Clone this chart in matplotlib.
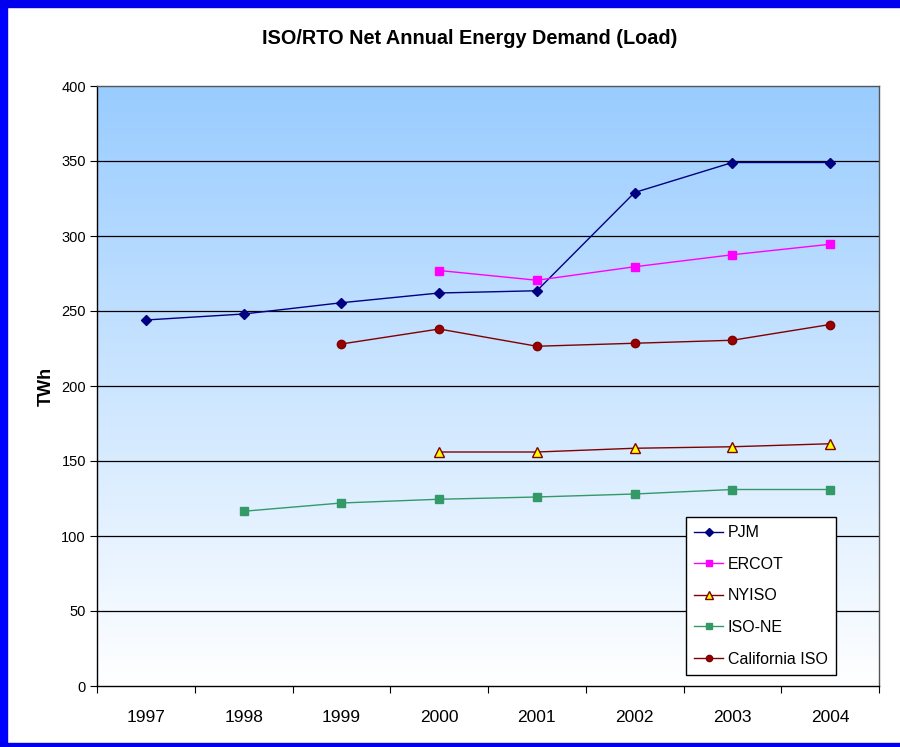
import numpy as np
import matplotlib
matplotlib.use("Agg")
import matplotlib.pyplot as plt
from matplotlib.patches import Rectangle

plt.rcParams['font.family'] = ['Liberation Sans', 'DejaVu Sans']

years = ["1997", "1998", "1999", "2000", "2001", "2002", "2003", "2004"]
nan = np.nan
pjm = [244, 248, 255.5, 262, 263.5, 329, 349, 349]
ercot = [nan, nan, nan, 277, 270.5, 279.5, 287.5, 294.5]
nyiso = [nan, nan, nan, 156, 156, 158.5, 159.5, 161.5]
isone = [nan, 116.5, 122, 124.5, 126, 128, 131, 131]
caiso = [nan, nan, 228, 238, 226.5, 228.5, 230.5, 241]

fig = plt.figure(figsize=(9, 7.47), dpi=100)
fig.patch.set_facecolor("white")

# blue frame
fig.patches.append(Rectangle((0, 0), 7/900, 1, transform=fig.transFigure, color="#0000FF", zorder=0))
fig.patches.append(Rectangle((0, 1-7/747), 1, 7/747, transform=fig.transFigure, color="#0000EE", zorder=0))
fig.patches.append(Rectangle((0, 0), 1, 4/747, transform=fig.transFigure, color="#0000EE", zorder=0))

ax = fig.add_axes([97/900, 1-686/747, 782/900, 600/747])

# gradient background
grad = np.linspace(0, 1, 256).reshape(-1, 1)
top = np.array([0x99, 0xCC, 0xFF]) / 255.0
bot = np.array([1.0, 1.0, 1.0])
img = bot[None, None, :] * (1 - grad[:, :, None]) + top[None, None, :] * grad[:, :, None]
ax.imshow(img, extent=[0, 1, 0, 1], transform=ax.transAxes, aspect="auto", origin="lower", zorder=0)

x = np.arange(len(years))
ax.set_xlim(-0.5, len(years) - 0.5)
ax.set_ylim(0, 400)

for v in range(50, 400, 50):
    ax.axhline(v, color="black", lw=0.9, zorder=1)

ax.plot(x, pjm, color="#000080", lw=1, marker="D", ms=5, mfc="#000080", mec="#000080", label="PJM", zorder=3)
ax.plot(x, ercot, color="#FF00FF", lw=1, marker="s", ms=6, mfc="#FF00FF", mec="#FF00FF", label="ERCOT", zorder=3)
ax.plot(x, nyiso, color="#800000", lw=1, marker="^", ms=7, mfc="#FFFF00", mec="#800000", mew=1, label="NYISO", zorder=3)
ax.plot(x, isone, color="#339966", lw=1, marker="s", ms=6, mfc="#339966", mec="#339966", label="ISO-NE", zorder=3)
ax.plot(x, caiso, color="#800000", lw=1, marker="o", ms=6, mfc="#990000", mec="#800000", label="California ISO", zorder=3)

ax.set_yticks(range(0, 401, 50))
ax.tick_params(axis="y", direction="out", length=5, labelsize=10.5, pad=3)
ax.set_xticks(np.arange(-0.5, len(years), 1))
ax.set_xticklabels([])
ax.tick_params(axis="x", which="major", direction="out", length=5)
ax.set_xticks(x, minor=True)
ax.set_xticklabels(years, minor=True, fontsize=12.5)
ax.tick_params(axis="x", which="minor", length=0, pad=17)

for s in ["left", "bottom"]:
    ax.spines[s].set_color("black")
    ax.spines[s].set_linewidth(1)
for s in ["right", "top"]:
    ax.spines[s].set_color("#555555")
    ax.spines[s].set_linewidth(1)

ax.set_ylabel("TWh", fontsize=13, fontweight="bold", labelpad=5)
fig.text(0.5 + 20/900, 1 - 38/747, "ISO/RTO Net Annual Energy Demand (Load)", ha="center", va="center",
         fontsize=14.3, fontweight="bold")

leg = ax.legend(loc="lower left", bbox_to_anchor=((686-97)/782, (686-675)/600), fontsize=11.5,
                frameon=True, fancybox=False, edgecolor="black", framealpha=1, facecolor="white",
                handlelength=1.8, labelspacing=1.04, borderpad=0.52, handletextpad=0.3,
                markerscale=0.75, borderaxespad=0)
leg.get_frame().set_linewidth(1)

fig.savefig("out.png", dpi=100)
